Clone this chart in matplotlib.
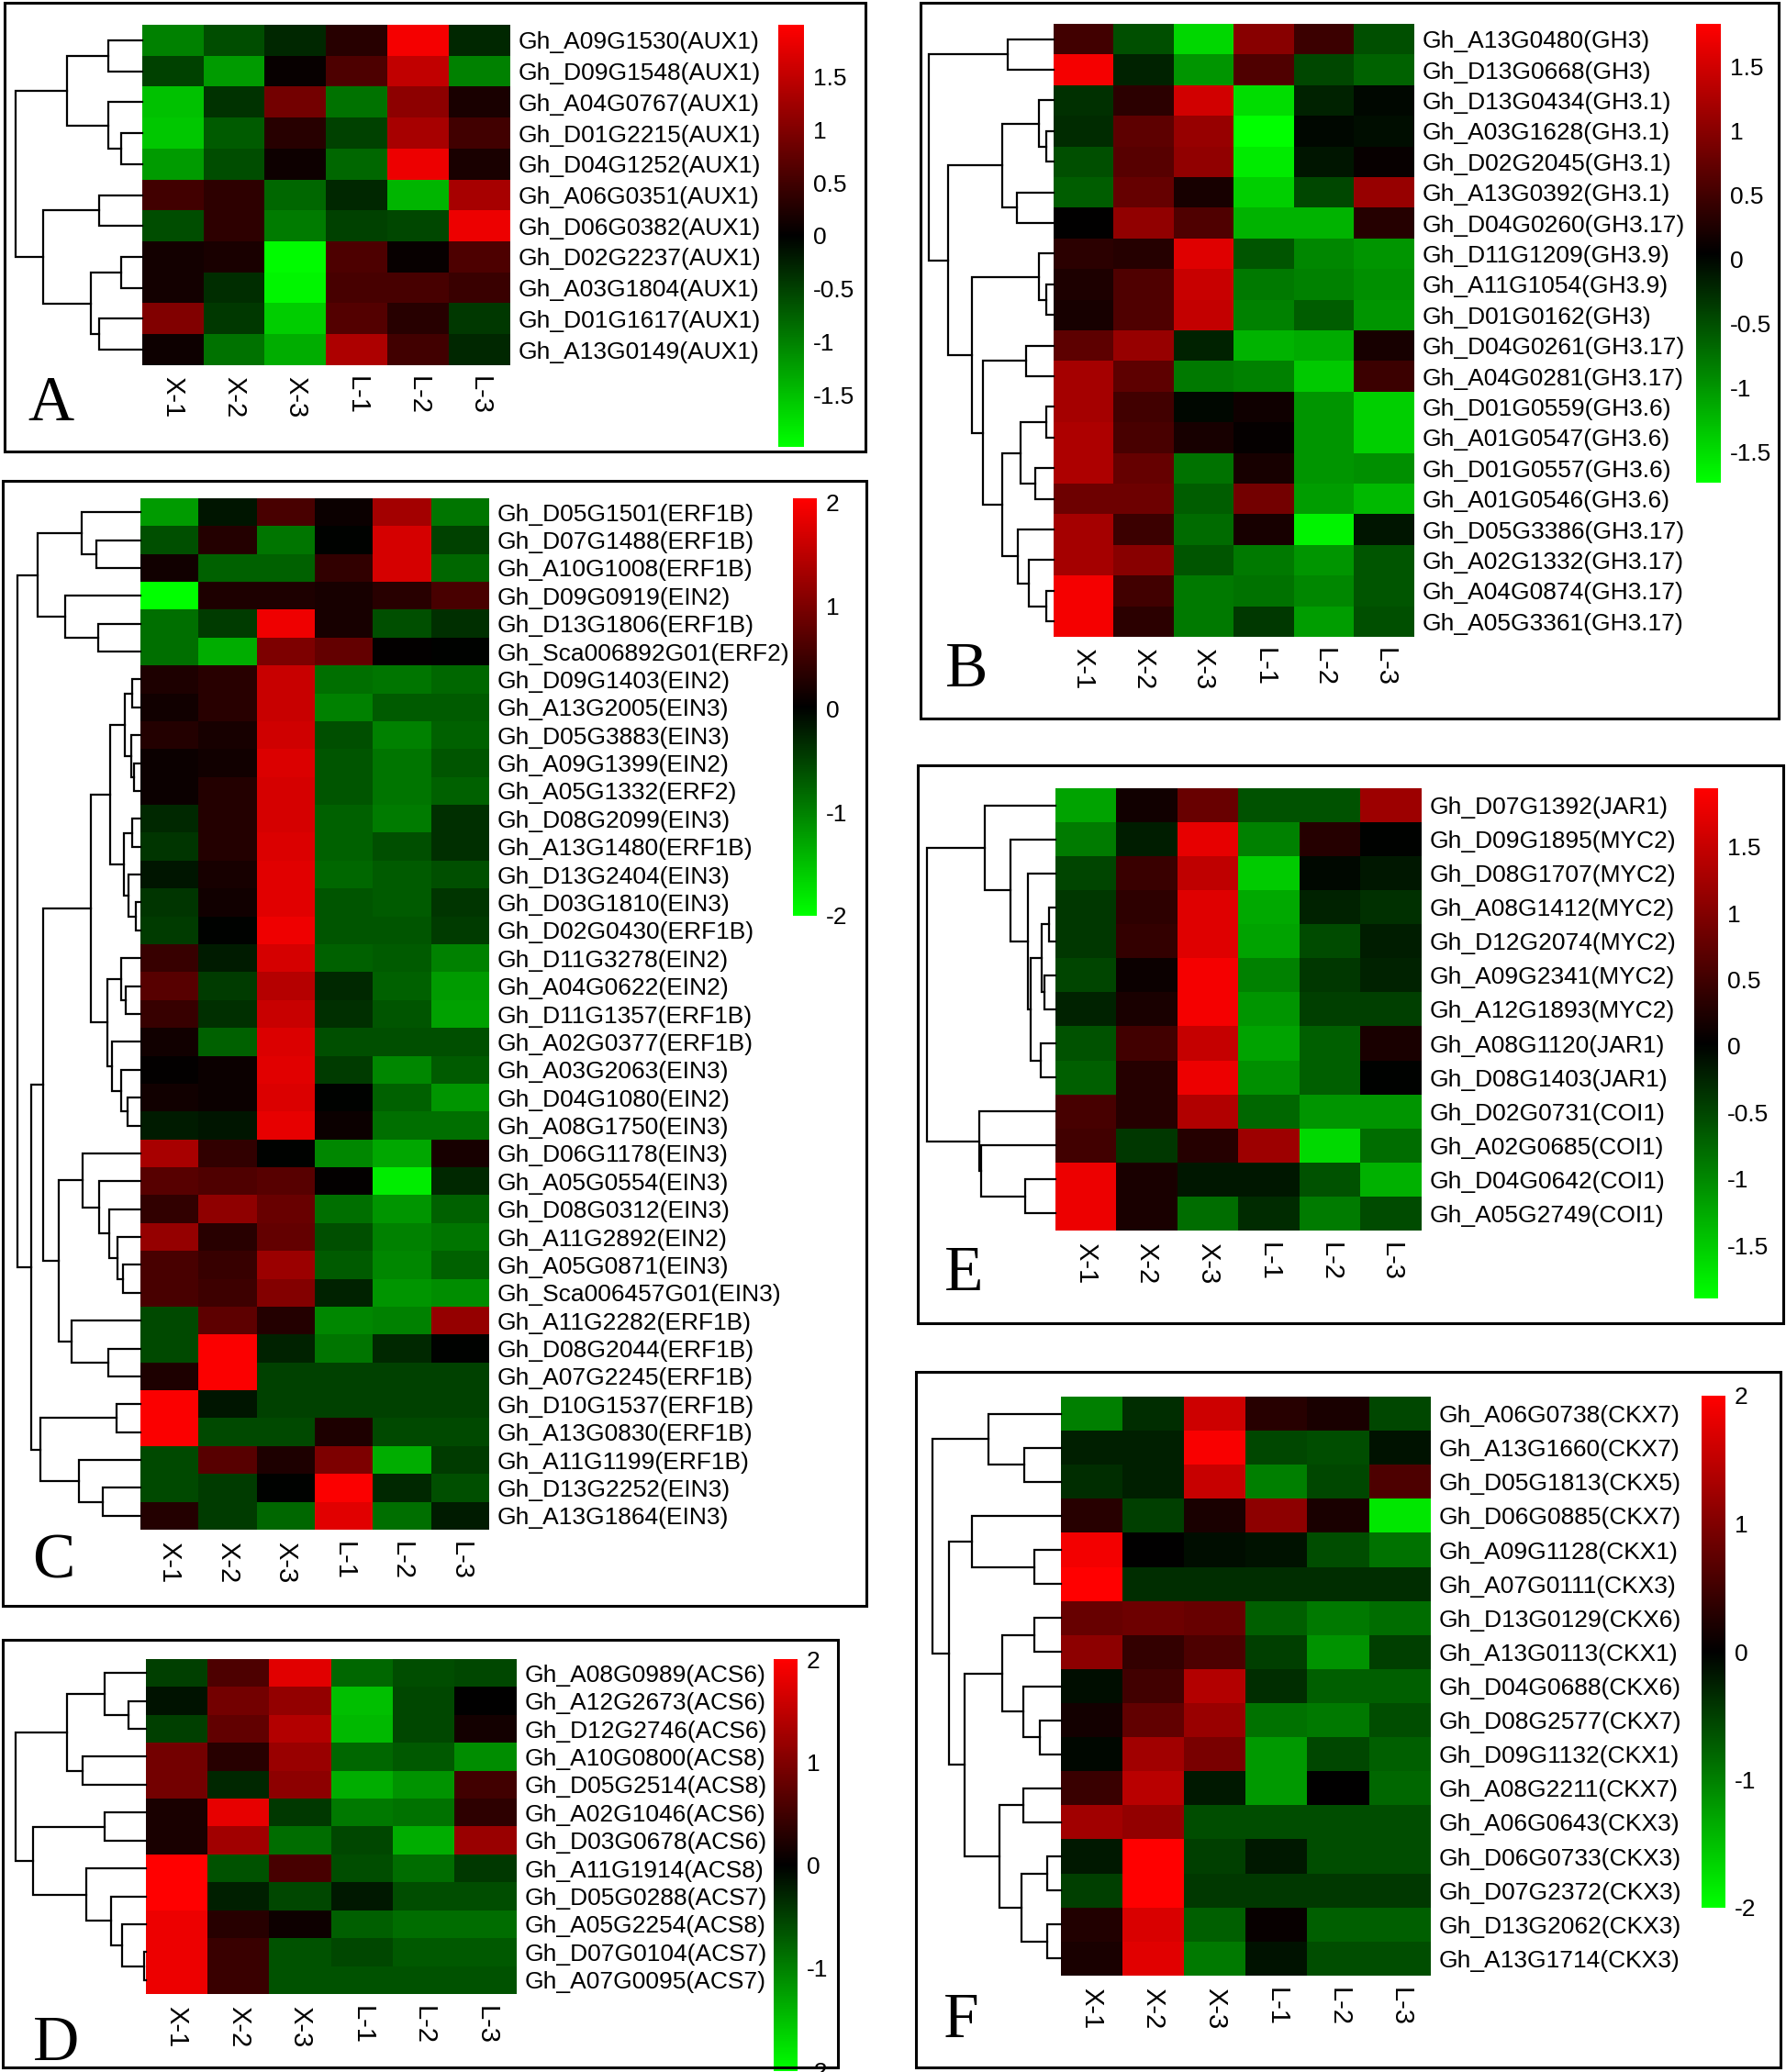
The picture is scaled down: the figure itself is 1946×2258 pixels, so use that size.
import matplotlib
matplotlib.use('Agg')
import matplotlib.pyplot as plt
import matplotlib.cm as cm
import numpy as np
from matplotlib.colors import LinearSegmentedColormap, Normalize
from matplotlib.patches import Rectangle

plt.rcParams['font.family'] = ['Liberation Sans', 'DejaVu Sans']
plt.rcParams['axes.unicode_minus'] = False

samples = ['X-1', 'X-2', 'X-3', 'L-1', 'L-2', 'L-3']

# ---------------- A : AUX1 ----------------
genes_a = ['Gh_A09G1530(AUX1)', 'Gh_D09G1548(AUX1)', 'Gh_A04G0767(AUX1)', 'Gh_D01G2215(AUX1)',
           'Gh_D04G1252(AUX1)', 'Gh_A06G0351(AUX1)', 'Gh_D06G0382(AUX1)', 'Gh_D02G2237(AUX1)',
           'Gh_A03G1804(AUX1)', 'Gh_D01G1617(AUX1)', 'Gh_A13G0149(AUX1)']
vals_a = [[-1.0, -0.6, -0.3, 0.3, 1.9, -0.3],
          [-0.5, -1.2, 0.05, 0.6, 1.5, -1.0],
          [-1.5, -0.4, 0.9, -0.9, 1.1, 0.2],
          [-1.55, -0.7, 0.3, -0.5, 1.3, 0.5],
          [-1.2, -0.6, 0.1, -0.8, 1.85, 0.2],
          [0.5, 0.35, -0.8, -0.3, -1.4, 1.3],
          [-0.6, 0.35, -0.95, -0.5, -0.55, 1.85],
          [0.15, 0.2, -1.95, 0.6, 0.05, 0.6],
          [0.15, -0.35, -1.9, 0.55, 0.55, 0.45],
          [1.0, -0.45, -1.6, 0.65, 0.3, -0.45],
          [0.1, -0.9, -1.35, 1.35, 0.5, -0.3]]
# tree nodes: (left, right, height)
tree_a = (((0, 1, 61), (2, (3, 4, 38), 61), 136),
          ((5, 6, 78), ((7, 8, 38), (9, 10, 78), 93), 180), 230)
ticks_a = [1.5, 1, 0.5, 0, -0.5, -1, -1.5]
range_a = (-1.99, 1.99)

# ---------------- B : GH3 ----------------
genes_b = ['Gh_A13G0480(GH3)', 'Gh_D13G0668(GH3)', 'Gh_D13G0434(GH3.1)', 'Gh_A03G1628(GH3.1)',
           'Gh_D02G2045(GH3.1)', 'Gh_A13G0392(GH3.1)', 'Gh_D04G0260(GH3.17)', 'Gh_D11G1209(GH3.9)',
           'Gh_A11G1054(GH3.9)', 'Gh_D01G0162(GH3)', 'Gh_D04G0261(GH3.17)', 'Gh_A04G0281(GH3.17)',
           'Gh_D01G0559(GH3.6)', 'Gh_A01G0547(GH3.6)', 'Gh_D01G0557(GH3.6)', 'Gh_A01G0546(GH3.6)',
           'Gh_D05G3386(GH3.17)', 'Gh_A02G1332(GH3.17)', 'Gh_A04G0874(GH3.17)', 'Gh_A05G3361(GH3.17)']
vals_b = [[0.5, -0.5, -1.45, 1.0, 0.45, -0.5],
          [1.75, -0.2, -1.0, 0.6, -0.45, -0.65],
          [-0.3, 0.35, 1.5, -1.5, -0.2, 0.0],
          [-0.25, 0.7, 1.1, -1.75, 0.0, -0.05],
          [-0.5, 0.65, 1.05, -1.6, -0.1, 0.1],
          [-0.6, 0.75, 0.2, -1.4, -0.45, 1.1],
          [0.05, 1.05, 0.6, -1.2, -1.2, 0.3],
          [0.35, 0.3, 1.6, -0.55, -0.9, -1.0],
          [0.25, 0.6, 1.45, -0.8, -0.85, -0.95],
          [0.2, 0.6, 1.4, -0.85, -0.6, -1.0],
          [0.7, 1.1, -0.2, -1.2, -1.15, 0.2],
          [1.2, 0.7, -0.8, -0.85, -1.35, 0.45],
          [1.2, 0.5, 0.0, 0.15, -1.0, -1.4],
          [1.25, 0.55, 0.2, 0.08, -1.0, -1.4],
          [1.25, 0.75, -0.75, 0.2, -1.0, -0.95],
          [0.8, 0.8, -0.6, 0.85, -1.05, -1.25],
          [1.2, 0.45, -0.7, 0.2, -1.65, -0.1],
          [1.2, 1.0, -0.55, -0.8, -1.0, -0.55],
          [1.75, 0.5, -0.8, -0.75, -0.9, -0.55],
          [1.75, 0.35, -0.8, -0.35, -1.05, -0.5]]
tree_b = ((0, 1, 82),
          (((2, (3, 4, 13), 27), (5, 6, 67), 93),
           ((7, (8, 9, 13), 27),
            ((10, 11, 50),
             (((12, 13, 13), (14, 15, 33), 60), (16, (17, (18, 19, 13), 45), 65), 92), 128), 148), 190), 225)
ticks_b = [1.5, 1, 0.5, 0, -0.5, -1, -1.5]
range_b = (-1.74, 1.83)

# ---------------- C : ethylene ----------------
genes_c = ['Gh_D05G1501(ERF1B)', 'Gh_D07G1488(ERF1B)', 'Gh_A10G1008(ERF1B)', 'Gh_D09G0919(EIN2)',
           'Gh_D13G1806(ERF1B)', 'Gh_Sca006892G01(ERF2)', 'Gh_D09G1403(EIN2)', 'Gh_A13G2005(EIN3)',
           'Gh_D05G3883(EIN3)', 'Gh_A09G1399(EIN2)', 'Gh_A05G1332(ERF2)', 'Gh_D08G2099(EIN3)',
           'Gh_A13G1480(ERF1B)', 'Gh_D13G2404(EIN3)', 'Gh_D03G1810(EIN3)', 'Gh_D02G0430(ERF1B)',
           'Gh_D11G3278(EIN2)', 'Gh_A04G0622(EIN2)', 'Gh_D11G1357(ERF1B)', 'Gh_A02G0377(ERF1B)',
           'Gh_A03G2063(EIN3)', 'Gh_D04G1080(EIN2)', 'Gh_A08G1750(EIN3)', 'Gh_D06G1178(EIN3)',
           'Gh_A05G0554(EIN3)', 'Gh_D08G0312(EIN3)', 'Gh_A11G2892(EIN2)', 'Gh_A05G0871(EIN3)',
           'Gh_Sca006457G01(EIN3)', 'Gh_A11G2282(ERF1B)', 'Gh_D08G2044(ERF1B)', 'Gh_A07G2245(ERF1B)',
           'Gh_D10G1537(ERF1B)', 'Gh_A13G0830(ERF1B)', 'Gh_A11G1199(ERF1B)', 'Gh_D13G2252(EIN3)',
           'Gh_A13G1864(EIN3)']
vals_c = [[-1.2, -0.15, 0.6, 0.1, 1.3, -0.9],
          [-0.6, 0.3, -0.9, 0.0, 1.7, -0.5],
          [0.15, -0.75, -0.75, 0.4, 1.7, -0.8],
          [-2.0, 0.25, 0.25, 0.2, 0.35, 0.6],
          [-0.85, -0.45, 1.9, 0.2, -0.6, -0.35],
          [-0.85, -1.35, 1.0, 0.8, 0.05, 0.0],
          [0.25, 0.35, 1.6, -0.85, -0.9, -0.8],
          [0.15, 0.35, 1.6, -1.0, -0.7, -0.7],
          [0.3, 0.2, 1.65, -0.6, -1.0, -0.75],
          [0.1, 0.15, 1.75, -0.65, -0.9, -0.65],
          [0.1, 0.3, 1.7, -0.65, -0.9, -0.75],
          [-0.3, 0.3, 1.7, -0.75, -0.95, -0.35],
          [-0.4, 0.3, 1.75, -0.75, -0.6, -0.35],
          [-0.15, 0.2, 1.8, -0.8, -0.7, -0.6],
          [-0.4, 0.15, 1.8, -0.65, -0.7, -0.4],
          [-0.45, 0.0, 1.9, -0.65, -0.65, -0.45],
          [0.45, -0.2, 1.7, -0.75, -0.7, -1.0],
          [0.7, -0.45, 1.45, -0.3, -0.75, -1.2],
          [0.45, -0.35, 1.6, -0.35, -0.65, -1.25],
          [0.15, -0.75, 1.75, -0.6, -0.6, -0.6],
          [0.05, 0.1, 1.8, -0.45, -1.05, -0.7],
          [0.15, 0.1, 1.75, 0.0, -0.75, -1.15],
          [-0.2, -0.15, 1.85, 0.1, -0.85, -0.85],
          [1.35, 0.4, 0.0, -1.05, -1.3, 0.2],
          [0.7, 0.65, 0.7, 0.05, -1.85, -0.3],
          [0.4, 1.15, 0.85, -0.85, -1.15, -0.75],
          [1.2, 0.35, 0.8, -0.6, -1.0, -0.9],
          [0.6, 0.45, 1.25, -0.7, -1.05, -0.75],
          [0.6, 0.5, 1.05, -0.25, -1.15, -1.1],
          [-0.55, 0.75, 0.3, -1.05, -1.0, 1.2],
          [-0.55, 2.0, -0.25, -0.9, -0.3, 0.0],
          [0.25, 2.0, -0.5, -0.5, -0.5, -0.5],
          [2.0, -0.15, -0.5, -0.5, -0.5, -0.5],
          [2.0, -0.55, -0.55, 0.25, -0.55, -0.55],
          [-0.55, 0.7, 0.25, 1.0, -1.35, -0.45],
          [-0.55, -0.45, 0.0, 2.0, -0.3, -0.6],
          [0.3, -0.45, -0.8, 1.8, -0.85, -0.2]]
tree_c = (((0, (1, 2, 143), 191), (3, (4, 5, 138), 245), 333),
          ((((((6, 7, 28), (8, (9, 10, 20), 30), 50), ((11, 12, 28), (13, (14, 15, 16), 40), 53), 98),
             ((16, (17, 18, 48), 63), (19, (20, (21, 22, 43), 63), 93), 108), 160),
            ((23, (24, (25, (26, (27, 28, 56), 76), 101), 133), 188), (29, (30, 31, 103), 225), 266), 316),
           ((32, 33, 78), (34, (35, 36, 123), 200), 326), 356), 400)
ticks_c = [2, 1, 0, -1, -2]
range_c = (-2.0, 2.04)

# ---------------- D : ACS ----------------
genes_d = ['Gh_A08G0989(ACS6)', 'Gh_A12G2673(ACS6)', 'Gh_D12G2746(ACS6)', 'Gh_A10G0800(ACS8)',
           'Gh_D05G2514(ACS8)', 'Gh_A02G1046(ACS6)', 'Gh_D03G0678(ACS6)', 'Gh_A11G1914(ACS8)',
           'Gh_D05G0288(ACS7)', 'Gh_A05G2254(ACS8)', 'Gh_D07G0104(ACS7)', 'Gh_A07G0095(ACS7)']
vals_d = [[-0.5, 0.6, 1.75, -0.8, -0.6, -0.55],
          [-0.15, 0.9, 1.15, -1.5, -0.55, 0.0],
          [-0.5, 0.75, 1.4, -1.45, -0.55, 0.15],
          [0.9, 0.3, 1.2, -0.8, -0.7, -1.1],
          [0.9, -0.3, 1.1, -1.35, -1.15, 0.5],
          [0.2, 1.8, -0.45, -0.95, -0.9, 0.35],
          [0.2, 1.25, -0.85, -0.55, -1.35, 1.2],
          [2.0, -0.65, 0.55, -0.6, -0.85, -0.45],
          [2.0, -0.25, -0.55, -0.2, -0.6, -0.6],
          [1.85, 0.3, 0.1, -0.75, -0.85, -0.85],
          [1.85, 0.45, -0.65, -0.55, -0.7, -0.7],
          [1.85, 0.45, -0.65, -0.65, -0.65, -0.65]]
tree_d = (((0, (1, 2, 32), 77), (3, 4, 117), 147),
          ((5, 6, 77), (7, (8, (9, (10, 11, 4), 44), 64), 110), 209), 242)
ticks_d = [2, 1, 0, -1, -2]
range_d = (-2.0, 2.0)

# ---------------- E : JA ----------------
genes_e = ['Gh_D07G1392(JAR1)', 'Gh_D09G1895(MYC2)', 'Gh_D08G1707(MYC2)', 'Gh_A08G1412(MYC2)',
           'Gh_D12G2074(MYC2)', 'Gh_A09G2341(MYC2)', 'Gh_A12G1893(MYC2)', 'Gh_A08G1120(JAR1)',
           'Gh_D08G1403(JAR1)', 'Gh_D02G0731(COI1)', 'Gh_A02G0685(COI1)', 'Gh_D04G0642(COI1)',
           'Gh_A05G2749(COI1)']
vals_e = [[-1.2, 0.15, 0.8, -0.6, -0.6, 1.2],
          [-0.9, -0.2, 1.75, -0.95, 0.3, 0.0],
          [-0.5, 0.45, 1.45, -1.5, -0.05, -0.15],
          [-0.4, 0.35, 1.7, -1.25, -0.25, -0.35],
          [-0.4, 0.4, 1.7, -1.2, -0.55, -0.2],
          [-0.5, 0.1, 1.85, -0.95, -0.4, -0.25],
          [-0.25, 0.2, 1.85, -1.1, -0.45, -0.45],
          [-0.6, 0.5, 1.5, -1.2, -0.7, 0.2],
          [-0.7, 0.3, 1.8, -1.05, -0.7, 0.0],
          [0.55, 0.3, 1.35, -0.75, -1.1, -1.1],
          [0.5, -0.4, 0.3, 1.2, -1.6, -0.8],
          [1.8, 0.2, -0.15, -0.15, -0.6, -1.3],
          [1.8, 0.2, -0.8, -0.3, -0.9, -0.55]]
tree_e = ((0, (1, (2, ((((3, 4, 12), (5, 6, 20), 25), (7, 8, 27), 45)), 50), 80), 127),
          (9, (10, (11, 12, 55), 133), 137), 230)
ticks_e = [1.5, 1, 0.5, 0, -0.5, -1, -1.5]
range_e = (-1.9, 1.94)

# ---------------- F : CKX ----------------
genes_f = ['Gh_A06G0738(CKX7)', 'Gh_A13G1660(CKX7)', 'Gh_D05G1813(CKX5)', 'Gh_D06G0885(CKX7)',
           'Gh_A09G1128(CKX1)', 'Gh_A07G0111(CKX3)', 'Gh_D13G0129(CKX6)', 'Gh_A13G0113(CKX1)',
           'Gh_D04G0688(CKX6)', 'Gh_D08G2577(CKX7)', 'Gh_D09G1132(CKX1)', 'Gh_A08G2211(CKX7)',
           'Gh_A06G0643(CKX3)', 'Gh_D06G0733(CKX3)', 'Gh_D07G2372(CKX3)', 'Gh_D13G2062(CKX3)',
           'Gh_A13G1714(CKX3)']
vals_f = [[-1.0, -0.35, 1.6, 0.3, 0.2, -0.55],
          [-0.25, -0.25, 1.95, -0.55, -0.6, -0.15],
          [-0.35, -0.25, 1.55, -1.0, -0.55, 0.6],
          [0.3, -0.5, 0.2, 1.1, 0.2, -1.8],
          [1.9, 0.0, -0.1, -0.15, -0.6, -0.9],
          [2.0, -0.35, -0.35, -0.35, -0.35, -0.35],
          [0.8, 0.85, 0.8, -0.75, -0.95, -0.85],
          [1.1, 0.4, 0.6, -0.5, -1.15, -0.5],
          [-0.1, 0.5, 1.4, -0.35, -0.75, -0.75],
          [0.15, 0.75, 1.2, -0.9, -0.95, -0.6],
          [-0.05, 1.25, 0.95, -1.2, -0.55, -0.75],
          [0.45, 1.45, -0.2, -1.2, 0.0, -0.8],
          [1.25, 1.15, -0.6, -0.6, -0.6, -0.6],
          [-0.2, 2.0, -0.5, -0.2, -0.6, -0.6],
          [-0.5, 2.0, -0.45, -0.45, -0.45, -0.45],
          [0.25, 1.7, -0.75, 0.05, -0.75, -0.75],
          [0.2, 1.75, -0.95, -0.15, -0.6, -0.6]]
tree_f = ((0, (1, 2, 65), 130),
          ((3, (4, 5, 47), 160),
           (((6, 7, 47), (8, (9, 10, 37), 67), 105),
            ((11, 12, 67), ((13, 14, 25), (15, 16, 25), 70), 110), 173), 200), 230)
ticks_f = [2, 1, 0, -1, -2]
range_f = (-2.0, 2.0)


W, H = 1946, 2258
cmap = LinearSegmentedColormap.from_list('gkr', ['#00ff00', '#000000', '#ff0000'])


def rect(x0, y0, x1, y1):
    # pixel box (top-left origin) -> figure fraction
    return [x0 / W, 1 - y1 / H, (x1 - x0) / W, (y1 - y0) / H]


def draw_tree(ax, node):
    if isinstance(node, int):
        return node, 0
    left, right, h = node
    yl, hl = draw_tree(ax, left)
    yr, hr = draw_tree(ax, right)
    ax.plot([hl, h, h, hr], [yl, yl, yr, yr], color='black', lw=1.6,
            solid_joinstyle='miter', clip_on=False)
    return (yl + yr) / 2, h


def draw_panel(fig, vals, genes, tree, ticks, vrange, letter, lay):
    data = np.array(vals)
    n = len(genes)

    # heatmap
    ax = fig.add_axes(rect(*lay['heat']))
    ax.imshow(data, cmap=cmap, vmin=vrange[0], vmax=vrange[1], aspect='auto',
              interpolation='nearest')
    ax.set_yticks(range(n))
    ax.set_yticklabels(genes, fontsize=19)
    ax.yaxis.tick_right()
    ax.set_xticks(range(len(samples)))
    ax.set_xticklabels(samples, fontsize=21, rotation=270)
    ax.tick_params(axis='y', length=0, pad=6)
    ax.tick_params(axis='x', length=0, pad=9)
    for s in ax.spines.values():
        s.set_visible(False)

    # dendrogram
    dax = fig.add_axes(rect(*lay['tree']))
    draw_tree(dax, tree)
    dax.set_xlim(tree[2], 0)
    dax.set_ylim(n - 0.5, -0.5)
    dax.axis('off')

    # colour bar
    cax = fig.add_axes(rect(*lay['cbar']))
    sm = cm.ScalarMappable(norm=Normalize(*vrange), cmap=cmap)
    cb = fig.colorbar(sm, cax=cax)
    cb.outline.set_visible(False)
    cb.set_ticks(ticks)
    cb.set_ticklabels([f'{t:g}' for t in ticks])
    cax.tick_params(length=0, pad=7, labelsize=19)

    # frame and panel letter
    x0, y0, x1, y1 = lay['box']
    fig.patches.append(Rectangle((x0 / W, 1 - y1 / H), (x1 - x0) / W, (y1 - y0) / H,
                                 transform=fig.transFigure, fill=False, lw=2.2,
                                 edgecolor='black'))
    lx, ly = lay['letter']
    fig.text(lx / W, 1 - ly / H, letter, fontsize=50, family='Liberation Serif',
             ha='left', va='baseline')


fig = plt.figure(figsize=(W / 100, H / 100), dpi=100)

layouts = {
    'A': dict(box=(5, 3, 943, 492), heat=(155, 27, 556, 398), tree=(17, 27, 155, 398),
              cbar=(848, 27, 876, 487), letter=(30, 458)),
    'B': dict(box=(1003, 3, 1938, 783), heat=(1148, 26, 1541, 694), tree=(1012, 26, 1148, 694),
              cbar=(1848, 26, 1875, 526), letter=(1030, 748)),
    'C': dict(box=(3, 524, 944, 1750), heat=(153, 543, 533, 1667), tree=(19, 543, 153, 1667),
              cbar=(864, 543, 890, 998), letter=(35, 1720)),
    'D': dict(box=(3, 1787, 913, 2253), heat=(159, 1808, 563, 2173), tree=(17, 1808, 159, 2173),
              cbar=(843, 1808, 869, 2257), letter=(36, 2245)),
    'E': dict(box=(1000, 834, 1943, 1442), heat=(1150, 859, 1549, 1341), tree=(1010, 859, 1150, 1341),
              cbar=(1846, 859, 1872, 1415), letter=(1029, 1406)),
    'F': dict(box=(998, 1495, 1940, 2253), heat=(1156, 1522, 1559, 2153), tree=(1016, 1522, 1156, 2153),
              cbar=(1854, 1521, 1880, 2079), letter=(1028, 2220)),
}

draw_panel(fig, vals_a, genes_a, tree_a, ticks_a, range_a, 'A', layouts['A'])
draw_panel(fig, vals_b, genes_b, tree_b, ticks_b, range_b, 'B', layouts['B'])
draw_panel(fig, vals_c, genes_c, tree_c, ticks_c, range_c, 'C', layouts['C'])
draw_panel(fig, vals_d, genes_d, tree_d, ticks_d, range_d, 'D', layouts['D'])
draw_panel(fig, vals_e, genes_e, tree_e, ticks_e, range_e, 'E', layouts['E'])
draw_panel(fig, vals_f, genes_f, tree_f, ticks_f, range_f, 'F', layouts['F'])

fig.savefig('out.png', dpi=100)
